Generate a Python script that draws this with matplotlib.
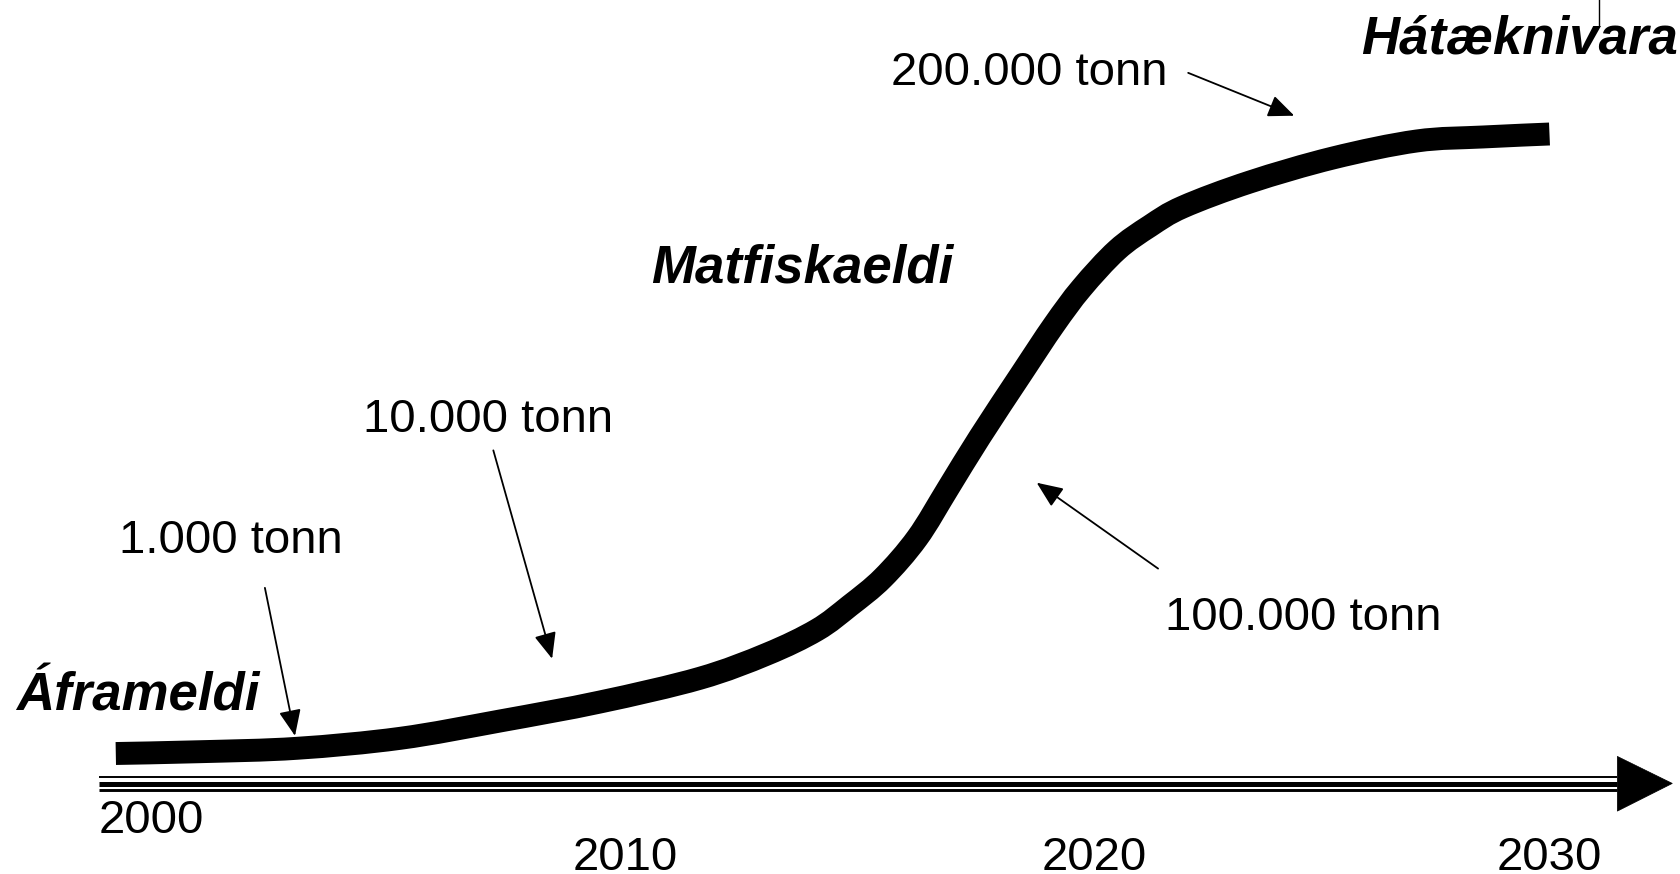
import matplotlib
matplotlib.use("Agg")
import matplotlib.pyplot as plt
import numpy as np
from matplotlib.patches import Polygon, PathPatch
from matplotlib.path import Path

plt.rcParams["font.family"] = ["Liberation Sans", "DejaVu Sans"]

# growth curve (year, relative level 0..100)
curve_years = [2000.0, 2001.76, 2003.79, 2005.95, 2008.04, 2010.13, 2012.22,
               2013.63, 2014.67, 2015.36, 2016.05, 2016.77, 2017.42, 2018.08,
               2018.96, 2019.63, 2020.21, 2020.95, 2021.64, 2022.33, 2023.73,
               2025.47, 2027.22, 2028.61, 2030.0]
curve_level = [0.0, 0.29, 0.84, 2.45, 5.25, 8.31, 12.14, 16.06, 19.94, 23.86,
               28.33, 34.79, 42.86, 51.09, 61.42, 69.17, 75.14, 81.27, 85.15,
               88.22, 92.25, 96.13, 98.87, 99.52, 100.0]

tick_years = [2000, 2010, 2020, 2030]
tick_labels = ["2000", "2010", "2020", "2030"]

ann_labels = ["1.000 tonn", "10.000 tonn", "100.000 tonn", "200.000 tonn"]
ann_text_xy = [(2002.40, 34.38), (2007.79, 53.76), (2024.84, 21.93), (2019.12, 109.89)]
ann_start_xy = [(2003.12, 26.74), (2007.90, 48.93), (2021.81, 29.85), (2022.44, 109.87)]
ann_tip_xy = [(2003.75, 2.85), (2009.13, 15.30), (2019.27, 43.71), (2024.66, 102.95)]

stage_labels = ["Áframeldi", "Matfiskaeldi", "Hátæknivara"]

fig = plt.figure(figsize=(16.81, 8.74), dpi=100)
ax = fig.add_axes([0, 0, 1, 1])
ax.set_xlim(1997.577, 2032.752)
ax.set_ylim(-19.45, 121.63)
ax.axis("off")

# main curve, drawn as a smooth bezier path through the read points
pts = np.column_stack([curve_years, curve_level])
verts = [pts[0]]
codes = [Path.MOVETO]
n = len(pts)
for i in range(n - 1):
    p_prev = pts[max(i - 1, 0)]
    p_next2 = pts[min(i + 2, n - 1)]
    c1 = pts[i] + (pts[i + 1] - p_prev) / 6
    c2 = pts[i + 1] - (p_next2 - pts[i]) / 6
    verts += [c1, c2, pts[i + 1]]
    codes += [Path.CURVE4] * 3
ax.add_patch(PathPatch(Path(verts, codes), facecolor="none", edgecolor="black",
                       lw=16.5, capstyle="butt", joinstyle="round"))

# time axis: triple line plus arrow head
x0, x1, tip = 1999.65, 2031.42, 2032.57
ax.plot([x0, x1], [-3.76, -3.76], color="black", lw=1.4, solid_capstyle="butt")
ax.plot([x0, x1], [-4.89, -4.89], color="black", lw=3.6, solid_capstyle="butt")
ax.plot([x0, x1], [-5.87, -5.87], color="black", lw=2.1, solid_capstyle="butt")
ax.add_patch(Polygon([[x1, -0.47], [tip, -4.83], [x1, -9.3]], closed=True,
                     facecolor="black", edgecolor="black", lw=0.5))

# year labels (the first one sits a little higher)
tick_dx = [0.74, 0.66, 0.47, 0.0]
tick_y = [-10.97, -16.9, -16.9, -16.9]
for yr, lab, dx, ty in zip(tick_years, tick_labels, tick_dx, tick_y):
    ax.text(yr + dx, ty, lab, fontsize=34, ha="center", va="center")

# tonnage annotations
for lab, txy, sxy, pxy in zip(ann_labels, ann_text_xy, ann_start_xy, ann_tip_xy):
    ax.text(txy[0], txy[1], lab, fontsize=34, ha="center", va="center")
    ax.annotate("", xy=pxy, xytext=sxy,
                arrowprops=dict(arrowstyle="-|>,head_length=0.4,head_width=0.17",
                                mutation_scale=40, lw=1.3, color="black",
                                shrinkA=0, shrinkB=0))

# stage labels
ax.text(2000.45, 9.17, stage_labels[0], fontsize=38, fontweight="bold",
        fontstyle="italic", ha="center", va="center")
ax.text(2014.36, 78.36, stage_labels[1], fontsize=38, fontweight="bold",
        fontstyle="italic", ha="center", va="center")
ax.text(2032.69, 115.25, stage_labels[2], fontsize=38, fontweight="bold",
        fontstyle="italic", ha="right", va="center")
ax.plot([2031.03, 2031.03], [121.63, 117.6], color="black", lw=1.0)

fig.savefig("out.png", dpi=100)
